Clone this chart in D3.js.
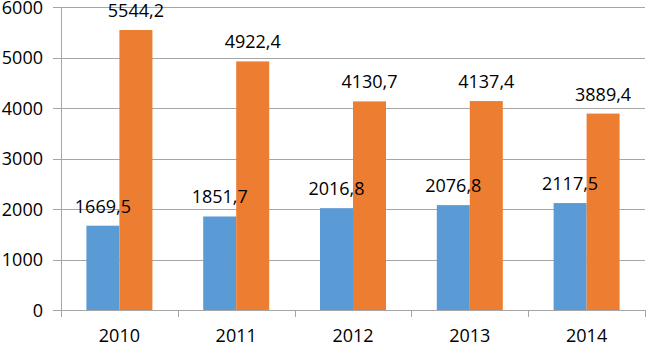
<!DOCTYPE html>
<html>
<head>
<meta charset="utf-8">
<script src="https://cdn.jsdelivr.net/npm/d3@7/dist/d3.min.js"></script>
<style>
  html, body { margin: 0; padding: 0; background: #fff; }
  svg { display: block; font-family: "Open Sans", "Noto Sans", sans-serif; }
</style>
</head>
<body>
<svg id="chart" width="646" height="344"></svg>
<script>
const categories = ["2010", "2011", "2012", "2013", "2014"];
const seriesNames = ["A", "B"];
const seriesA = [1669.5, 1851.7, 2016.8, 2076.8, 2117.5];
const seriesB = [5544.2, 4922.4, 4130.7, 4137.4, 3889.4];
const yTicks = [0, 1000, 2000, 3000, 4000, 5000, 6000];
const colors = ["#5B9BD5", "#ED7D31"];

(function () {
const plotLeft = 61, plotRight = 645, plotTop = 7, plotBottom = 310;
const svg = d3.select("#chart");

const y = d3.scaleLinear().domain([0, 6000]).range([plotBottom, plotTop]);
const x = d3.scaleBand().domain(categories).range([plotLeft, plotRight]).paddingInner(0).paddingOuter(0);
const bw = x.bandwidth();
const gap = (bw - 66) / 2;
const xs = d3.scaleBand().domain(seriesNames).range([gap, bw - gap]).padding(0);

// Y axis with gridlines
const yAxis = d3.axisLeft(y).tickValues(yTicks).tickFormat(d3.format("d"))
  .tickSizeInner(-(plotRight - 53)).tickSizeOuter(0).tickPadding(10);
const gy = svg.append("g").attr("transform", "translate(53,0)").call(yAxis);
gy.select(".domain").remove();
gy.selectAll(".tick line").attr("stroke", "#a6a6a6").attr("stroke-width", 1)
  .attr("shape-rendering", "crispEdges");
gy.selectAll(".tick text").attr("fill", "#000").attr("font-size", 18)
  .attr("font-family", "'Open Sans', sans-serif").attr("dy", "0.36em");

// vertical axis line
svg.append("line").attr("x1", plotLeft + 0.5).attr("x2", plotLeft + 0.5)
  .attr("y1", plotTop).attr("y2", plotBottom + 7)
  .attr("stroke", "#a6a6a6").attr("stroke-width", 1);

// X axis
const xAxis = d3.axisBottom(x).tickSize(0).tickPadding(0);
const gx = svg.append("g").attr("transform", `translate(0,${plotBottom})`).call(xAxis);
gx.select(".domain").attr("stroke", "#a6a6a6").attr("shape-rendering", "crispEdges");
gx.selectAll(".tick text").attr("fill", "#000").attr("font-size", 18)
  .attr("font-family", "'Open Sans', sans-serif").attr("y", 32).attr("dy", null);
// category boundary ticks
const bounds = categories.map(c => x(c) + bw).concat([x(categories[0])]);
svg.append("g").selectAll("line").data(bounds).join("line")
  .attr("x1", d => Math.round(d) + 0.5).attr("x2", d => Math.round(d) + 0.5)
  .attr("y1", plotBottom).attr("y2", plotBottom + 7)
  .attr("stroke", "#a6a6a6");

// bars
const rows = categories.map((c, i) => ({ c, vals: [seriesA[i], seriesB[i]] }));
const groups = svg.append("g").selectAll("g").data(rows).join("g")
  .attr("transform", d => `translate(${x(d.c)},0)`);
groups.selectAll("rect").data(d => d.vals.map((v, j) => ({ v, s: seriesNames[j], j })))
  .join("rect")
  .attr("x", d => xs(d.s))
  .attr("width", xs.bandwidth())
  .attr("y", d => y(d.v))
  .attr("height", d => y(0) - y(d.v))
  .attr("fill", d => colors[d.j]);

const fmt = v => v.toFixed(1).replace(".", ",");
groups.selectAll("text").data(d => d.vals.map((v, j) => ({ v, s: seriesNames[j], j })))
  .join("text")
  .attr("x", d => xs(d.s) + xs.bandwidth() / 2)
  .attr("y", d => y(d.v) - 13)
  .attr("text-anchor", "middle")
  .attr("font-size", 18)
  .attr("fill", "#000")
  .text(d => fmt(d.v));
})();
</script>
</body>
</html>
